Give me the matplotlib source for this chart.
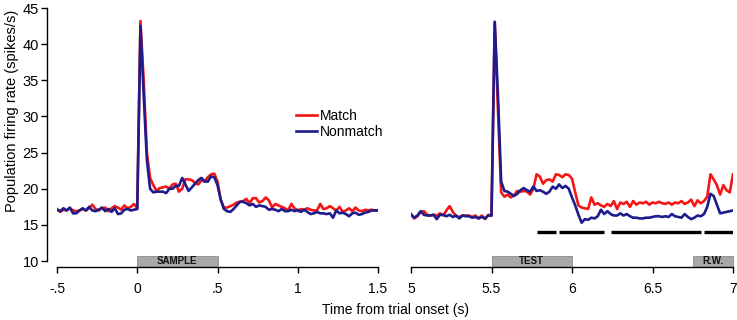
import numpy as np
import matplotlib
matplotlib.use("Agg")
import matplotlib.pyplot as plt

plt.rcParams['font.family'] = ['Liberation Sans', 'DejaVu Sans']

# ---------------- data ----------------
# Left panel: -0.5 .. 1.5 s (20 ms bins)
match_left = [
    17.2, 16.8, 17.1, 17.0, 17.3, 17.0, 16.9, 17.0, 17.2, 17.0,
    17.3, 17.8, 17.2, 17.0, 17.3, 17.4, 16.9, 17.3, 17.6, 17.4,
    17.1, 17.7, 17.3, 17.5, 17.9,
    17.3,
    43.2, 35.0, 25.0, 21.5, 20.5, 19.7, 20.1, 20.2, 20.3, 20.0,
    20.6, 20.7, 19.6, 20.0, 21.3, 21.3, 21.2, 20.8, 20.6, 21.2,
    21.0, 21.6, 22.0, 22.1, 21.0,
    18.5, 17.4, 17.4, 17.6, 17.8, 18.1, 18.2, 18.3, 18.6, 18.0,
    18.7, 18.7, 18.1, 18.3, 18.8, 18.4, 17.4, 17.9, 17.7, 17.5,
    17.3, 17.0, 17.9, 17.3, 16.9, 17.2, 17.1, 17.3, 17.1, 17.0,
    17.0, 17.9, 17.2, 17.3, 17.6, 17.3, 17.0, 17.5, 16.8, 17.0,
    17.3, 16.9, 17.4, 17.0, 16.9, 17.1, 17.0, 17.1, 17.0, 17.0,
]
nonmatch_left = [
    17.1, 16.9, 17.3, 17.0, 17.4, 16.6, 16.6, 17.0, 17.3, 17.0,
    17.5, 17.0, 16.9, 17.1, 17.4, 16.9, 17.2, 16.8, 17.3, 16.5,
    16.6, 17.1, 17.2, 17.0, 17.1,
    17.2,
    42.5, 33.0, 24.0, 20.0, 19.5, 19.6, 19.6, 19.6, 19.4, 20.0,
    20.0, 20.4, 20.4, 21.5, 20.6, 19.7, 20.2, 20.7, 21.2, 21.5,
    21.0, 21.0, 21.7, 21.6, 20.5,
    18.5, 17.2, 16.9, 16.8, 17.2, 17.7, 18.2, 18.2, 18.0, 17.7,
    17.9, 17.5, 17.7, 17.6, 17.5, 17.1, 17.2, 17.1, 16.9, 17.2,
    16.9, 16.9, 17.1, 16.9, 17.1, 16.8, 17.1, 16.8, 16.5, 16.6,
    16.8, 16.6, 16.6, 16.5, 16.6, 16.0, 17.0, 16.6, 16.7, 16.5,
    16.2, 16.6, 16.7, 16.4, 16.5, 16.7, 16.8, 17.0, 17.0, 17.0,
]

# Right panel: 5.0 .. 7.0 s (20 ms bins)
match_right = [
    16.4, 15.9, 16.2, 16.8, 16.9, 16.4, 16.3, 16.4, 16.3, 16.6,
    16.3, 17.0, 17.6, 16.8, 16.2, 16.1, 16.3, 16.3, 16.3, 16.1,
    16.3, 15.9, 16.3, 15.8, 16.4,
    16.3,
    43.0, 31.0, 19.5, 18.9, 19.2, 18.8, 19.1, 19.7, 19.6, 19.7,
    19.6, 19.2, 20.0, 22.0, 21.7, 20.7, 21.2, 21.3, 21.0, 22.0,
    21.9, 21.6, 22.0, 21.9, 21.4,
    19.5, 17.7, 17.4, 17.3, 17.2, 18.8, 17.8, 18.0, 17.7, 17.5,
    17.9, 17.6, 18.3, 17.2, 18.1, 17.9, 18.2, 17.5, 18.3, 17.8,
    18.1, 18.0, 18.2, 17.8, 18.1, 18.0, 18.2, 18.0, 17.9, 18.1,
    17.8, 18.1, 18.0, 18.3, 17.9, 18.1, 18.5, 17.6, 18.4, 18.0,
    18.3, 18.9, 22.0, 21.3, 20.5, 19.2, 20.5, 19.8, 19.5, 22.0,
]
nonmatch_right = [
    16.5, 16.0, 16.3, 16.9, 16.4, 16.3, 16.3, 16.4, 15.8, 16.4,
    16.4, 16.2, 16.4, 16.1, 16.3, 15.9, 16.3, 16.2, 16.2, 16.0,
    16.1, 15.9, 16.1, 15.9, 16.3,
    16.3,
    43.1, 33.0, 21.0, 19.7, 19.6, 19.3, 19.0, 19.3, 19.8, 20.1,
    19.8, 19.6, 20.3, 19.7, 19.8, 19.6, 19.3, 19.6, 20.3, 20.0,
    20.6, 20.1, 20.4, 20.0, 18.8,
    17.7, 16.4, 15.3, 15.8, 15.7, 16.0, 15.9, 16.2, 17.1, 16.5,
    16.9, 16.5, 16.3, 16.3, 16.6, 16.3, 16.5, 16.2, 16.0, 16.0,
    15.9, 15.9, 16.0, 16.0, 16.1, 16.2, 16.2, 16.1, 16.2, 16.1,
    16.5, 16.2, 16.1, 16.0, 16.5, 16.1, 15.8, 16.0, 16.3, 16.2,
    16.5, 17.5, 19.3, 19.0, 17.8, 16.6, 16.7, 16.8, 16.9, 17.0,
]

left_xticks = [-0.5, 0, 0.5, 1, 1.5]
left_xticklabels = ['-.5', '0', '.5', '1', '1.5']
right_xticks = [5, 5.5, 6, 6.5, 7]
right_xticklabels = ['5', '5.5', '6', '6.5', '7']
yticks = [10, 15, 20, 25, 30, 35, 40, 45]

left_epochs = [('SAMPLE', 0.0, 0.5)]
right_epochs = [('TEST', 5.5, 6.0), ('R.W.', 6.75, 7.0)]
sig_segments = [(5.78, 5.90), (5.92, 6.20), (6.24, 6.80), (6.82, 7.0)]
sig_level = 14.0

RED = '#f51515'
BLUE = '#1c1c8c'
GRAY = '#a8a8a8'

W, H = 737, 320
fig = plt.figure(figsize=(W / 100, H / 100), dpi=100)

ybot, ytop = 9.18, 45
ax_b = (320 - 267) / H
ax_h = (267 - 8) / H
axL = fig.add_axes([57 / W, ax_b, (378 - 57) / W, ax_h])
axR = fig.add_axes([411 / W, ax_b, (733 - 411) / W, ax_h])


def draw(ax, m, n, x0, x1, epochs):
    tm = np.linspace(x0, x1, len(m))
    tn = np.linspace(x0, x1, len(n))
    lm, = ax.plot(tm, m, color=RED, lw=1.9, solid_joinstyle='round', label='Match')
    ln, = ax.plot(tn, n, color=BLUE, lw=1.9, solid_joinstyle='round', label='Nonmatch')
    ax.set_xlim(x0, x1)
    ax.set_ylim(ybot, ytop)
    for name, a, b in epochs:
        ax.fill_between([a, b], ybot, 10.7, color=GRAY, lw=0.6, edgecolor='#8a8a8a',
                        clip_on=False, zorder=1)
        ax.text((a + b) / 2, (ybot + 10.7) / 2 + 0.02, name, ha='center', va='center',
                fontsize=7, fontweight='bold', color='#111111')
    for s in ['top', 'right']:
        ax.spines[s].set_visible(False)
    ax.spines['bottom'].set_linewidth(1.0)
    ax.tick_params(axis='x', direction='out', length=4, width=1.0, pad=7, labelsize=10)
    return lm, ln


lm, ln = draw(axL, match_left, nonmatch_left, -0.5, 1.5, left_epochs)
draw(axR, match_right, nonmatch_right, 5.0, 7.0, right_epochs)

axL.set_xticks(left_xticks)
axL.set_xticklabels(left_xticklabels)
axR.set_xticks(right_xticks)
axR.set_xticklabels(right_xticklabels)

axL.spines['left'].set_position(('outward', 7))
axL.spines['left'].set_bounds(10, 45)
axL.spines['left'].set_linewidth(1.0)
axL.set_yticks(yticks)
axL.tick_params(axis='y', direction='out', length=4, width=1.0, pad=2, labelsize=10.5)

axR.spines['left'].set_visible(False)
axR.set_yticks([])

for a, b in sig_segments:
    axR.plot([a, b], [sig_level, sig_level], color='black', lw=2.4, solid_capstyle='butt')

axL.legend(handles=[lm, ln], loc='center left', bbox_to_anchor=(0.745, 0.552),
           frameon=False, fontsize=10, handlelength=1.5, handletextpad=0.2,
           labelspacing=0.15, borderpad=0, borderaxespad=0)

fig.text(12 / W, 1 - 111 / H, 'Population firing rate (spikes/s)', rotation=90,
         ha='center', va='center', fontsize=10.5)
fig.text(395 / W, 1 - 310 / H, 'Time from trial onset (s)', ha='center', va='center',
         fontsize=10)

fig.savefig('out.png', dpi=100)
